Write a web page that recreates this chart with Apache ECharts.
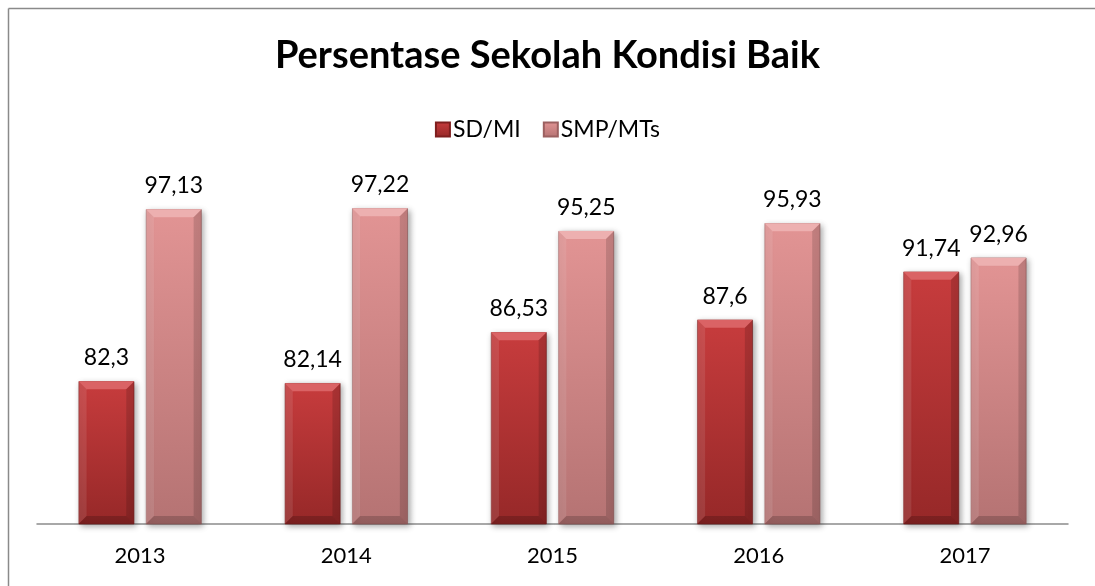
<!DOCTYPE html>
<html>
<head>
<meta charset="utf-8">
<title>Persentase Sekolah Kondisi Baik</title>
<script src="https://cdn.jsdelivr.net/npm/echarts@6/dist/echarts.min.js"></script>
<style>
  html, body { margin: 0; padding: 0; background: #fff; overflow: hidden; }
  #chart { width: 1095px; height: 586px; }
</style>
</head>
<body>
<div id="chart"></div>
<script>
// Years on the category axis
const years = ['2013', '2014', '2015', '2016', '2017'];
// Percentage of schools in good condition
const sdMi = [82.3, 82.14, 86.53, 87.6, 91.74];
const smpMts = [97.13, 97.22, 95.25, 95.93, 92.96];
const seriesNames = ['SD/MI', 'SMP/MTs'];

const Y_MIN = 70;
const Y_MAX = 100;
const BAR_PCT = 0.27;   // bar width as a share of the category band
const GAP_PCT = 0.21;   // gap between the two bars as a share of bar width
const FONT = 'Lato, "Open Sans", sans-serif';

const palette = [
  { top: '#C73C3D', bottom: '#962828', facet: '#DA6365', border: '#7E1E1E' },
  { top: '#E29494', bottom: '#B57373', facet: '#EDB0B0', border: '#9C6060' }
];

function fmt(v) { return String(v).replace('.', ','); }

function barSeries(name, values, idx) {
  const c = palette[idx];
  return {
    name: name,
    type: 'bar',
    data: values,
    barWidth: (BAR_PCT * 100) + '%',
    barGap: (GAP_PCT * 100) + '%',
    itemStyle: {
      color: new echarts.graphic.LinearGradient(0, 0, 0, 1, [
        { offset: 0, color: c.top },
        { offset: 1, color: c.bottom }
      ]),
      borderColor: c.border,
      borderWidth: 0.6,
      shadowBlur: 6,
      shadowColor: 'rgba(0,0,0,0.35)',
      shadowOffsetX: 2,
      shadowOffsetY: 2
    },
    label: {
      show: true,
      position: 'top',
      distance: 12,
      fontFamily: FONT,
      fontSize: 23,
      color: '#000',
      formatter: p => fmt(p.value)
    },
    z: 2
  };
}

// Bevel facets drawn over each bar, positioned from the same band geometry
function bevelData() {
  const out = [];
  [sdMi, smpMts].forEach((arr, s) => arr.forEach((v, i) => out.push([i, v, s])));
  return out;
}

function renderBevel(params, api) {
  const i = api.value(0);
  const v = api.value(1);
  const s = api.value(2);
  const band = api.size([1, 0])[0];
  const bw = band * BAR_PCT;
  const gap = bw * GAP_PCT;
  const total = bw * 2 + gap;
  const topPt = api.coord([i, v]);
  const basePt = api.coord([i, Y_MIN]);
  const x0 = topPt[0] - total / 2 + s * (bw + gap);
  const x1 = x0 + bw;
  const yt = topPt[1];
  const yb = basePt[1];
  const b = Math.min(8, (yb - yt) / 3);
  const c = palette[s];
  return {
    type: 'group',
    children: [
      { type: 'polygon', shape: { points: [[x0, yt], [x1, yt], [x1 - b, yt + b], [x0 + b, yt + b]] },
        style: { fill: c.facet } },
      { type: 'polygon', shape: { points: [[x0, yt], [x0 + b, yt + b], [x0 + b, yb - b], [x0, yb]] },
        style: { fill: 'rgba(255,255,255,0.10)' } },
      { type: 'polygon', shape: { points: [[x1, yt], [x1, yb], [x1 - b, yb - b], [x1 - b, yt + b]] },
        style: { fill: 'rgba(0,0,0,0.14)' } },
      { type: 'polygon', shape: { points: [[x0, yb], [x1, yb], [x1 - b, yb - b], [x0 + b, yb - b]] },
        style: { fill: 'rgba(0,0,0,0.18)' } }
    ]
  };
}

const chart = echarts.init(document.getElementById('chart'), null, { renderer: 'canvas' });

const frameStyle = { stroke: '#8a8a8a', lineWidth: 1.5 };

chart.setOption({
  animation: false,
  backgroundColor: '#fff',
  graphic: [
    // chart frame: only the left and top edges fall inside the canvas
    { type: 'line', silent: true, z: -1,
      shape: { x1: 8.5, y1: 8.5, x2: 1095, y2: 8.5 }, style: frameStyle },
    { type: 'line', silent: true, z: -1,
      shape: { x1: 8.5, y1: 8.5, x2: 8.5, y2: 586 }, style: frameStyle }
  ],
  title: {
    text: 'Persentase Sekolah Kondisi Baik',
    left: 'center',
    top: 32,
    textStyle: {
      fontFamily: FONT,
      fontSize: 38,
      fontWeight: 'bold',
      color: '#000'
    }
  },
  legend: {
    data: seriesNames,
    top: 113,
    left: 'center',
    icon: 'rect',
    itemWidth: 14,
    itemHeight: 14,
    itemGap: 22,
    textStyle: {
      fontFamily: FONT,
      fontSize: 23,
      color: '#000',
      padding: [0, 0, 0, -2]
    }
  },
  grid: { left: 37, right: 27, top: 176, bottom: 62 },
  xAxis: {
    type: 'category',
    data: years,
    axisLine: { lineStyle: { color: '#8c8c8c', width: 1.5 } },
    axisTick: { show: false },
    axisLabel: {
      fontFamily: FONT,
      fontSize: 22,
      color: '#000',
      margin: 21
    }
  },
  yAxis: {
    type: 'value',
    min: Y_MIN,
    max: Y_MAX,
    show: false,
    splitLine: { show: false }
  },
  series: [
    barSeries(seriesNames[0], sdMi, 0),
    barSeries(seriesNames[1], smpMts, 1),
    {
      type: 'custom',
      name: 'bevel',
      silent: true,
      renderItem: renderBevel,
      data: bevelData(),
      encode: { x: 0, y: 1 },
      z: 3
    }
  ]
});
</script>
</body>
</html>
